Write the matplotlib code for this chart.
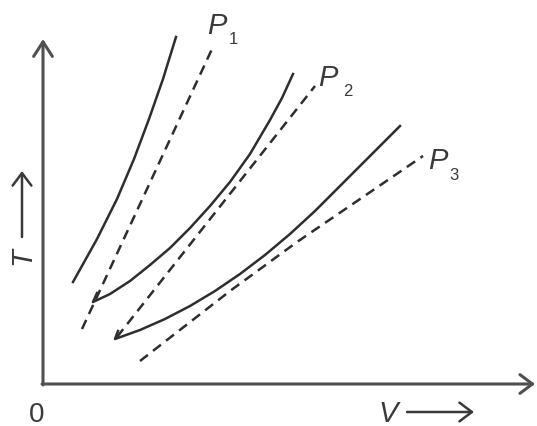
import matplotlib
matplotlib.use("Agg")
import matplotlib.pyplot as plt

# T-V diagram: solid curves and dashed isobars P1, P2, P3
# values (V right of origin, T above origin, same units on both)
solid1_v = [30, 54, 74, 91, 106, 120, 133]
solid1_t = [102, 145, 185, 225, 265, 305, 347]

# first point is the small barb at the lower end of the curve
solid2_v = [54, 50, 67, 87, 107, 127, 147, 167, 187, 207, 227, 239, 250]
solid2_t = [91, 82, 90, 103, 119, 136, 156, 178, 202, 230, 264, 286, 310]

solid3_v = [75, 72, 97, 122, 147, 172, 197, 222, 247, 272, 297, 327, 357]
solid3_t = [53, 45, 54, 65, 78, 93, 110, 129, 150, 173, 198, 228, 258]

dashed1_v = [39, 169]
dashed1_t = [55, 335]

dashed2_v = [74, 272]
dashed2_t = [47, 298]

dashed3_v = [97, 187, 254, 320, 380]
dashed3_t = [23, 93, 142, 187, 228]

labels = ["1", "2", "3"]

# style
line_col = "#2e2e2e"
axis_col = "#505050"
text_col = "#3a3a3a"
font = "Liberation Sans"

fig = plt.figure(figsize=(5.37, 4.27), dpi=100)
ax = fig.add_axes([0, 0, 1, 1])
ax.set_xlim(-43, 494)
ax.set_ylim(-42, 385)
ax.axis("off")

# axes with open arrowheads
ax.annotate("", xy=(492, 0), xytext=(-1, 0),
            arrowprops=dict(arrowstyle="->,head_length=0.6,head_width=0.45",
                            color=axis_col, lw=2.2, shrinkA=0, shrinkB=0,
                            mutation_scale=15))
ax.annotate("", xy=(0, 345), xytext=(0, -1),
            arrowprops=dict(arrowstyle="->,head_length=0.7,head_width=0.45",
                            color=axis_col, lw=2.2, shrinkA=0, shrinkB=0,
                            mutation_scale=15))

# curves
for v, t in [(solid1_v, solid1_t), (solid2_v, solid2_t), (solid3_v, solid3_t)]:
    ax.plot(v, t, color=line_col, lw=1.8, solid_joinstyle="round")
for v, t in [(dashed1_v, dashed1_t), (dashed2_v, dashed2_t), (dashed3_v, dashed3_t)]:
    ax.plot(v, t, color=line_col, lw=1.8, dashes=(4.0, 2.6))

# P labels
p_pos = [(174, 359), (285, 307), (395, 224)]
sub_pos = [(190, 346), (305, 293), (411, 209)]
for (px, py), (sx, sy), lab in zip(p_pos, sub_pos, labels):
    ax.text(px, py, "P", fontsize=21, style="italic", family=font,
            color=text_col, ha="center", va="center")
    ax.text(sx, sy, lab, fontsize=12, family=font,
            color=text_col, ha="center", va="center")

# axis labels
ax.text(-6, -30, "0", fontsize=20, family=font, color=text_col,
        ha="center", va="center")
ax.text(345, -29, "V", fontsize=21, style="italic", family=font,
        color=text_col, ha="center", va="center")
ax.annotate("", xy=(431, -28), xytext=(364, -28),
            arrowprops=dict(arrowstyle="->,head_length=0.6,head_width=0.45",
                            color=text_col, lw=1.8, shrinkA=0, shrinkB=0,
                            mutation_scale=15))
ax.text(-21, 129, "T", fontsize=21, style="italic", family=font,
        color=text_col, ha="center", va="center", rotation=90)
ax.annotate("", xy=(-21, 213), xytext=(-21, 147),
            arrowprops=dict(arrowstyle="->,head_length=0.6,head_width=0.45",
                            color=text_col, lw=1.8, shrinkA=0, shrinkB=0,
                            mutation_scale=15))

fig.savefig("out.png", dpi=100)
